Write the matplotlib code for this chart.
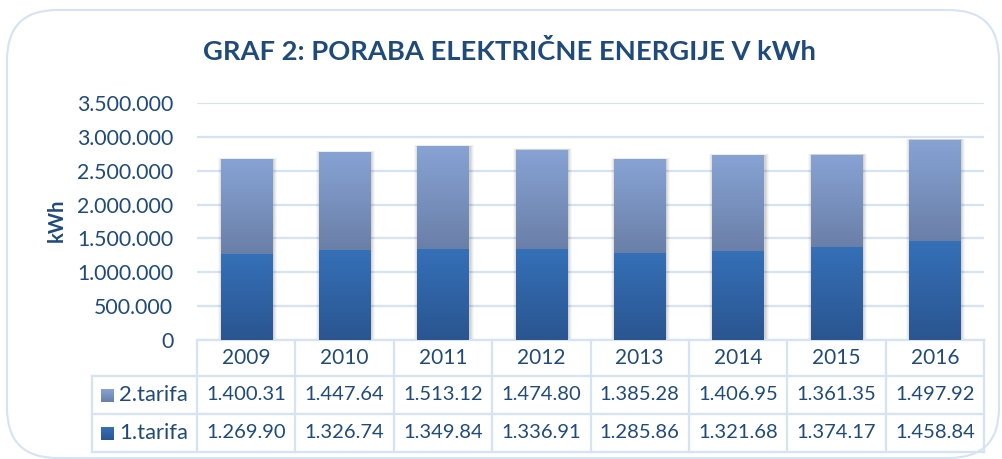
import matplotlib
matplotlib.use("Agg")
import matplotlib.pyplot as plt
import numpy as np
from matplotlib import transforms
from matplotlib.patches import FancyBboxPatch
from matplotlib.colors import LinearSegmentedColormap

years = ["2009", "2010", "2011", "2012", "2013", "2014", "2015", "2016"]
tarifa1 = [1269900, 1326740, 1349840, 1336910, 1285860, 1321680, 1374170, 1458840]
tarifa2 = [1400310, 1447640, 1513120, 1474800, 1385280, 1406950, 1361350, 1497920]
series_names = ["2.tarifa", "1.tarifa"]
yticks = [0, 500000, 1000000, 1500000, 2000000, 2500000, 3000000, 3500000]
title = "GRAF 2: PORABA ELEKTRIČNE ENERGIJE V kWh"
ylabel = "kWh"

W, H = 1002, 459
plt.rcParams['font.family'] = ['Lato', 'DejaVu Sans']
TXT = '#1F4A7C'
GRID = '#D6E3F4'

fig = plt.figure(figsize=(W / 100, H / 100), dpi=100)
fig.patch.set_facecolor('white')

# outer rounded frame
frame = FancyBboxPatch((7 / W, 1 - 458 / H), (999 - 7) / W, (458 - 10) / H,
                       boxstyle="round,pad=0,rounding_size=0.05",
                       transform=fig.transFigure, fill=False,
                       edgecolor='#D5E3F3', linewidth=1.5, mutation_aspect=W / H)
fig.patches.append(frame)

L, R, T, B = 197, 984, 103, 340
ax = fig.add_axes([L / W, 1 - B / H, (R - L) / W, (B - T) / H])
ax.set_xlim(-0.5, len(years) - 0.5)
ax.set_ylim(0, 3500000)
for s in ax.spines.values():
    s.set_visible(False)
ax.set_xticks([])
ax.set_yticks(yticks)
ax.set_yticklabels(["{:,}".format(v).replace(",", ".") for v in yticks])
ax.tick_params(axis='y', length=0, pad=17, labelsize=15.3, labelcolor=TXT)
ax.yaxis.grid(True, color=GRID, linewidth=1.6)
ax.set_axisbelow(True)

fig.text(57 / W, 1 - 220 / H, ylabel, rotation=90, ha='center', va='center',
         fontsize=14.5, fontweight='bold', color=TXT)
fig.text(509 / W, 1 - 52 / H, title, ha='center', va='center',
         fontsize=19.7, fontweight='bold', color=TXT)

cmap_top = LinearSegmentedColormap.from_list('t', ['#6A7FA8', '#87A3D4'])
cmap_bot = LinearSegmentedColormap.from_list('b', ['#2A5590', '#3570B8'])
grad = np.linspace(0, 1, 256).reshape(-1, 1)

x = np.arange(len(years))
bw = 0.52
pxw = 1.0 / 98.375  # one pixel in x data units
pyh = 3500000 / (B - T)

def gradient_bars(bars, cmap):
    for rect in bars:
        rect.set_facecolor('none')
        rect.set_edgecolor('none')
        x0, y0 = rect.get_x(), rect.get_y()
        w, h = rect.get_width(), rect.get_height()
        im = ax.imshow(grad, cmap=cmap, origin='lower', aspect='auto',
                       extent=(x0, x0 + w, y0, y0 + h), zorder=3,
                       interpolation='bilinear')
        im.set_clip_path(rect)

# soft shadows
totals = np.array(tarifa1) + np.array(tarifa2)
for k, a in [(4, 0.03), (3, 0.04), (2, 0.05), (1, 0.06)]:
    ax.bar(x + 1 * pxw, totals + k * pyh * 0.3, width=bw + 2 * k * pxw,
           color='black', alpha=a, zorder=2, linewidth=0)

b1 = ax.bar(x, tarifa1, width=bw, zorder=3)
b2 = ax.bar(x, tarifa2, width=bw, bottom=tarifa1, zorder=3)
gradient_bars(b1, cmap_bot)
gradient_bars(b2, cmap_top)
ax.set_xlim(-0.5, len(years) - 0.5)
ax.set_ylim(0, 3500000)

# data table
tr = transforms.blended_transform_factory(ax.transData, fig.transFigure)
def fy(p):
    return 1 - p / H
leg_left = -0.5 - (L - 92) / 98.375
r0, r1, r2, r3 = 340, 376, 414, 452
lk = dict(color=GRID, linewidth=1.6, transform=tr, clip_on=False)
ax.plot([-0.5, len(years) - 0.5], [fy(r0)] * 2, **lk)
for r in (r1, r2, r3):
    ax.plot([leg_left, len(years) - 0.5], [fy(r)] * 2, **lk)
for k in range(len(years) + 1):
    ax.plot([k - 0.5] * 2, [fy(r0), fy(r3)], **lk)
ax.plot([leg_left] * 2, [fy(r1), fy(r3)], **lk)

def fmt(v):
    return "{:,}".format(v).replace(",", ".")[:8]

for i, yv in enumerate(years):
    ax.text(i, fy((r0 + r1) / 2), yv, transform=tr, ha='center', va='center',
            fontsize=15, color=TXT, clip_on=False)
    ax.text(i, fy((r1 + r2) / 2), fmt(tarifa2[i]), transform=tr, ha='center',
            va='center', fontsize=14.5, color=TXT, clip_on=False)
    ax.text(i, fy((r2 + r3) / 2), fmt(tarifa1[i]), transform=tr, ha='center',
            va='center', fontsize=14.5, color=TXT, clip_on=False)

# legend keys in table
for (ra, rb), name, cmap in [((r1, r2), series_names[0], cmap_top),
                             ((r2, r3), series_names[1], cmap_bot)]:
    cy = (ra + rb) / 2
    kax = fig.add_axes([101 / W, 1 - (cy + 6.5) / H, 13 / W, 13 / H])
    kax.imshow(grad, cmap=cmap, origin='lower', aspect='auto', extent=(0, 1, 0, 1))
    kax.set_axis_off()
    fig.text(119 / W, fy(cy), name, ha='left', va='center', fontsize=15.8, color=TXT)

fig.savefig("out.png", dpi=100)
